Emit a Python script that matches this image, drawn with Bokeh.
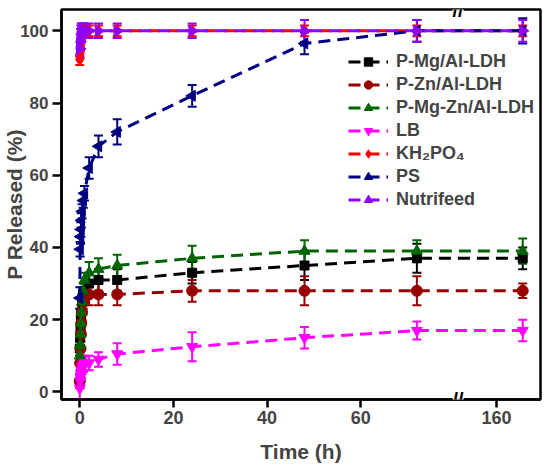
import math
from bokeh.plotting import figure
from bokeh.models import (ColumnDataSource, Whisker, TeeHead, Legend, LegendItem,
                          FixedTicker, Range1d, Label)
from bokeh.embed import file_html
from bokeh.resources import INLINE

# ---- data ----
time_h = [0, 0.08, 0.17, 0.25, 0.33, 0.5, 0.75, 1, 2, 4, 8, 24, 48, 72, 168]

mg_al = [12, 15, 18, 20, 22, 25, 27, 28, 30, 31, 31, 33, 35, 37, 37]
mg_al_err = [2, 2, 2, 2, 2, 2, 2, 2, 3, 3, 3, 3, 4, 4, 3]

zn_al = [3, 8, 12, 16, 19, 22, 25, 26, 27, 27, 27, 28, 28, 28, 28]
zn_al_err = [2, 2, 2, 2, 2, 2, 2, 2, 3, 3, 3, 3, 4, 4, 2]

mg_zn_al = [10, 13, 16, 19, 22, 25, 28, 31, 33, 34, 35, 37, 39, 39, 39]
mg_zn_al_err = [2, 2, 2, 2, 2, 2, 2, 2, 3, 3, 3, 3.5, 3, 3, 3.5]

lb = [1, 3, 4, 5, 6, 7, 7.5, 8, 8, 9, 10.5, 12.5, 15, 17, 17]
lb_err = [3, 2, 2, 2, 2, 2, 2, 2, 2, 2, 3, 4, 3, 2.5, 3]

kh2po4 = [92, 94, 96, 98, 99, 100, 100, 100, 100, 100, 100, 100, 100, 100, 100]
kh2po4_err = [1.5, 1.5, 1.5, 1.5, 1.5, 1.5, 1.5, 1.5, 1.5, 1.5, 1.5, 1.5, 1.5, 1.5, 1.5]

ps = [26, 39.5, 43, 45, 47.5, 50, 53, 55, 62, 68, 72, 82, 96.5, 100, 100]
ps_err = [3, 2, 2, 2, 2, 2, 2, 2, 3, 3, 3.5, 3, 3, 3, 3.5]

nutrifeed = [95, 97, 98.5, 99.5, 100, 100, 100, 100, 100, 100, 100, 100, 100, 100, 100]
nutrifeed_err = [2, 2, 2, 2, 2, 2, 2, 2, 2, 2, 2, 2, 3, 3, 3]

series_names = ["P-Mg/Al-LDH", "P-Zn/Al-LDH", "P-Mg-Zn/Al-LDH", "LB",
                "KH\u2082PO\u2084", "PS", "Nutrifeed"]
series_vals = [mg_al, zn_al, mg_zn_al, lb, kh2po4, ps, nutrifeed]
series_errs = [mg_al_err, zn_al_err, mg_zn_al_err, lb_err, kh2po4_err, ps_err, nutrifeed_err]
series_colors = ["#000000", "#990000", "#006400", "#FF00FF", "#FF0000", "#000080", "#8F00FF"]
series_markers = ["square", "circle", "triangle", "inverted_triangle", "diamond", "triangle", "triangle"]
series_angles = [0, 0, 0, 0, 0, math.pi / 2, -math.pi / 2]
series_sizes = [9, 11, 11, 11, 12, 11, 11]

x_ticks = [0, 20, 40, 60, 160]
y_ticks = [0, 20, 40, 60, 80, 100]

# ---- broken x axis transform ----
def to_axis(t):
    return t if t <= 80 else 89 + (t - 160) * 0.7

BREAK_POS = 80.8
FONT = "Liberation Sans"

p = figure(width=544, height=465, output_backend="svg", toolbar_location=None,
           x_range=Range1d(-3.9, 98.4), y_range=Range1d(-2.1, 105.9))
p.min_border_left = 56
p.min_border_right = 4
p.min_border_top = 9
p.grid.visible = False
p.outline_line_color = "black"
p.outline_line_width = 2.5
p.background_fill_color = "white"
p.border_fill_color = "white"

items = []
xs = [to_axis(t) for t in time_h]
for name, vals, errs, col, mk, ang, sz in zip(series_names, series_vals, series_errs,
                                               series_colors, series_markers,
                                               series_angles, series_sizes):
    src = ColumnDataSource(dict(x=xs, y=vals,
                                lo=[v - e for v, e in zip(vals, errs)],
                                hi=[v + e for v, e in zip(vals, errs)]))
    w = Whisker(source=src, base="x", upper="hi", lower="lo", dimension="height",
                line_color=col, line_width=2,
                upper_head=TeeHead(size=9, line_color=col, line_width=2),
                lower_head=TeeHead(size=9, line_color=col, line_width=2))
    p.add_layout(w)
    lr = p.line("x", "y", source=src, line_color=col, line_width=3, line_dash="12 7")
    sr = p.scatter("x", "y", source=src, marker=mk, angle=ang, size=sz,
                   fill_color=col, line_color=col)
    items.append(LegendItem(label=name, renderers=[lr, sr]))

legend = Legend(items=items, location=(283, 185), border_line_alpha=0,
                background_fill_alpha=0, label_text_font=FONT,
                label_text_font_style="bold", label_text_font_size="18px",
                glyph_width=40, glyph_height=21, label_height=21, spacing=2,
                padding=4, label_standoff=8, margin=0)
p.add_layout(legend)

# axes
p.xaxis.ticker = FixedTicker(ticks=[to_axis(t) for t in x_ticks])
p.xaxis.major_label_overrides = {to_axis(t): str(t) for t in x_ticks}
p.yaxis.ticker = FixedTicker(ticks=y_ticks)
p.xaxis.axis_label = "Time (h)"
p.yaxis.axis_label = "P Released (%)"
for ax in (p.xaxis[0], p.yaxis[0]):
    ax.axis_line_width = 2.5
    ax.major_tick_line_width = 2.5
    ax.minor_tick_line_color = None
    ax.major_tick_in = 0
    ax.major_label_text_font = FONT
    ax.major_label_text_font_style = "bold"
    ax.axis_label_text_font = FONT
    ax.axis_label_text_font_style = "bold"
    ax.axis_label_text_font_size = "21px"
p.xaxis.major_tick_out = 8
p.xaxis.major_label_standoff = 3
p.xaxis.major_label_text_font_size = "18px"
p.xaxis.axis_label_standoff = 13
p.yaxis.major_tick_out = 9
p.yaxis.major_label_standoff = 4
p.yaxis.major_label_text_font_size = "17px"
p.yaxis.axis_label_standoff = -9

# break marks
for yy in (p.y_range.start, p.y_range.end):
    p.add_layout(Label(x=BREAK_POS, y=yy, text="//", text_align="center",
                       text_baseline="middle", text_font=FONT, text_font_style="bold",
                       text_font_size="20px", background_fill_color="white",
                       text_color="black"))

open("out.html", "w").write(file_html(p, INLINE))
